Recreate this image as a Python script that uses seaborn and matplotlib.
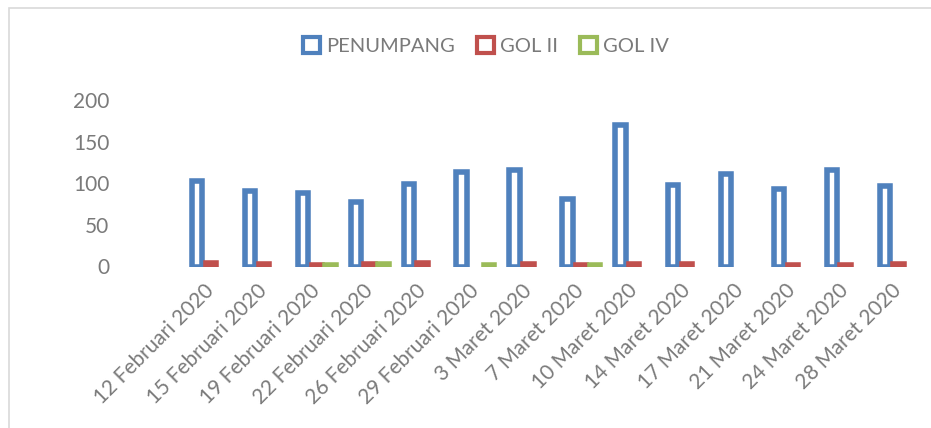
import numpy as np
import pandas as pd
import matplotlib
matplotlib.use("Agg")
import matplotlib.pyplot as plt
from matplotlib.patches import Patch, Rectangle
import seaborn as sns

tanggal = [
    "12 Februari 2020", "15 Februari 2020", "19 Februari 2020", "22 Februari 2020",
    "26 Februari 2020", "29 Februari 2020", "3 Maret 2020", "7 Maret 2020",
    "10 Maret 2020", "14 Maret 2020", "17 Maret 2020", "21 Maret 2020",
    "24 Maret 2020", "28 Maret 2020",
]
penumpang = [103, 91, 88, 77, 99, 114, 116, 81, 170, 98, 111, 93, 116, 97]
gol_ii = [4, 3, 2, 3, 4, np.nan, 3, 2, 3, 3, np.nan, 2, 2, 3]
gol_iv = [np.nan, np.nan, 2, 3, np.nan, 2, np.nan, 2, np.nan, np.nan, np.nan, np.nan, np.nan, np.nan]

series = ["PENUMPANG", "GOL II", "GOL IV"]
colors = ["#4F81BD", "#C0504D", "#9BBB59"]
text_col = "#7A7A7A"

df = pd.DataFrame({"tanggal": tanggal, "PENUMPANG": penumpang,
                   "GOL II": gol_ii, "GOL IV": gol_iv})
long = df.melt(id_vars="tanggal", var_name="seri", value_name="jumlah").dropna()

sns.set_style("white")
plt.rcParams["font.family"] = ["Lato", "DejaVu Sans"]

fig = plt.figure(figsize=(9.31, 4.28), dpi=100)
ax = fig.add_axes([184.5 / 931, 1 - 266.5 / 428, (925 - 184.5) / 931, 166.5 / 428])

sns.barplot(data=long, x="tanggal", y="jumlah", hue="seri", order=tanggal,
            hue_order=series, palette=colors, fill=False, width=0.78, gap=0.24,
            linewidth=4.0, errorbar=None, legend=False, ax=ax)

ax.set_ylim(0, 200)
ax.set_xlim(-0.5, len(tanggal) - 0.5)
ax.set_yticks([0, 50, 100, 150, 200])
ax.set_xlabel("")
ax.set_ylabel("")
for s in ax.spines.values():
    s.set_visible(False)
ax.tick_params(axis="y", length=0, pad=54, labelsize=15, labelcolor=text_col)
ax.tick_params(axis="x", length=0, pad=15, labelsize=15, labelcolor=text_col)
ax.set_yticklabels(["0", "50", "100", "150", "200"], ha="right")
for lab in ax.get_xticklabels():
    lab.set_rotation(45)
    lab.set_ha("right")
    lab.set_rotation_mode("anchor")
    lab.set_va("center")

handles = [Patch(facecolor="white", edgecolor=c, linewidth=3) for c in colors]
fig.legend(handles, series, loc="center", bbox_to_anchor=(486 / 931, 1 - 46 / 428),
           ncol=3, frameon=False, fontsize=14.5, labelcolor=text_col,
           handlelength=0.85, handleheight=0.85, handletextpad=0.3, columnspacing=1.1)

# chart border (only top/left visible in the crop)
fig.add_artist(Rectangle((8.5 / 931, -0.1), 1.2, 1 - 8.5 / 428 + 0.1,
                         transform=fig.transFigure, fill=False,
                         edgecolor="#D9D9D9", linewidth=1.2))

fig.savefig("out.png", dpi=100)
